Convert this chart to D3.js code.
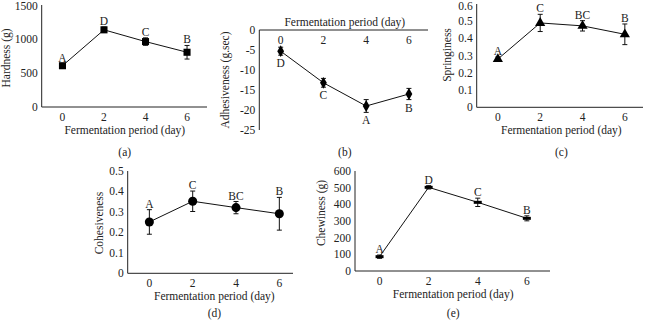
<!DOCTYPE html>
<html>
<head>
<meta charset="utf-8">
<script src="https://cdn.jsdelivr.net/npm/d3@7"></script>
<style>
  body { margin: 0; background: #fff; }
  svg { display: block; font-family: "Liberation Serif", "DejaVu Serif", serif; }
</style>
</head>
<body>
<svg id="chart" width="646" height="322"></svg>
<script>
// fermentation days (shared x values)
const days = [0, 2, 4, 6];
const xTicks = [0, 2, 4, 6];
const xTitle = "Fermentation period (day)";

// (a) hardness
const hardness = [607, 1135, 962, 805];
const hardnessErr = [25, 40, 55, 100];
const hardnessGroups = ["A", "D", "C", "B"];
const hardnessTicks = [0, 500, 1000, 1500];

// (b) adhesiveness
const adhesiveness = [-5.3, -13.2, -19, -16];
const adhesivenessErr = [1, 1.1, 1.6, 1.4];
const adhesivenessGroups = ["D", "C", "A", "B"];
const adhesivenessTicks = [0, -5, -10, -15, -20, -25];

// (c) springiness
const springiness = [0.28, 0.49, 0.473, 0.424];
const springinessErr = [0.012, 0.05, 0.03, 0.06];
const springinessGroups = ["A", "C", "BC", "B"];
const springinessTicks = [0, 0.1, 0.2, 0.3, 0.4, 0.5, 0.6];

// (d) cohesiveness
const cohesiveness = [0.251, 0.352, 0.321, 0.291];
const cohesivenessErr = [0.06, 0.05, 0.03, 0.08];
const cohesivenessGroups = ["A", "C", "BC", "B"];
const cohesivenessTicks = [0, 0.1, 0.2, 0.3, 0.4, 0.5];

// (e) chewiness
const chewiness = [86, 502, 412, 316];
const chewinessErr = [10, 10, 25, 15];
const chewinessGroups = ["A", "D", "C", "B"];
const chewinessTicks = [0, 100, 200, 300, 400, 500, 600];

const svg = d3.select("#chart");
const fs = 11.5;

function panel(p) {
  const g = svg.append("g");
  const x = d3.scaleLinear().domain([-1, 7]).range([p.x0, p.x1]);
  const y = d3.scaleLinear().domain(p.ydom).range([p.yb, p.yt]);
  const axisY = p.top ? p.yt : p.yb;

  // axis lines
  g.append("line").attr("x1", p.x0).attr("x2", p.x0)
    .attr("y1", Math.min(p.yt, p.yb)).attr("y2", Math.max(p.yt, p.yb))
    .attr("stroke", "#222").attr("stroke-width", 1);
  g.append("line").attr("x1", p.x0).attr("x2", p.xEnd)
    .attr("y1", axisY).attr("y2", axisY)
    .attr("stroke", "#222").attr("stroke-width", 1);

  // y tick labels
  g.selectAll(".yt").data(p.yticks).join("text")
    .attr("x", p.x0 - 4).attr("y", d => Math.max(y(d), 6)).attr("dy", "0.35em")
    .attr("text-anchor", "end").attr("font-size", fs).attr("fill", "#222")
    .text(d => d);

  // x tick labels
  g.selectAll(".xt").data(xTicks).join("text")
    .attr("x", d => x(d)).attr("y", axisY + 10).attr("dy", "0.35em")
    .attr("text-anchor", "middle").attr("font-size", fs).attr("fill", "#222")
    .text(d => d);

  // x title
  g.append("text")
    .attr("x", (x(0) + x(6)) / 2).attr("y", p.top ? axisY - 8 : axisY + 23).attr("dy", "0.35em")
    .attr("text-anchor", "middle").attr("font-size", fs).attr("fill", "#222")
    .text(xTitle);

  // y title
  g.append("text")
    .attr("transform", `translate(${p.ylx},${p.yly}) rotate(-90)`)
    .attr("dy", "0.35em")
    .attr("text-anchor", "middle").attr("font-size", fs).attr("fill", "#222")
    .text(p.ytitle);

  // panel letter
  g.append("text")
    .attr("x", (x(0) + x(6)) / 2).attr("y", p.lab).attr("dy", "0.35em")
    .attr("text-anchor", "middle").attr("font-size", fs).attr("fill", "#222")
    .text(p.letter);

  const pts = days.map((d, i) => ({ d, v: p.vals[i], e: p.err[i], grp: p.groups[i] }));

  // line
  g.append("path").datum(pts)
    .attr("d", d3.line().x(d => x(d.d)).y(d => y(d.v)))
    .attr("fill", "none").attr("stroke", "#111").attr("stroke-width", 1);

  // error bars
  const eb = g.selectAll(".eb").data(pts).join("g");
  eb.append("line").attr("x1", d => x(d.d)).attr("x2", d => x(d.d))
    .attr("y1", d => y(d.v - d.e)).attr("y2", d => y(d.v + d.e))
    .attr("stroke", "#111").attr("stroke-width", 1);
  [-1, 1].forEach(s => {
    eb.append("line").attr("x1", d => x(d.d) - 2.5).attr("x2", d => x(d.d) + 2.5)
      .attr("y1", d => y(d.v + s * d.e)).attr("y2", d => y(d.v + s * d.e))
      .attr("stroke", "#111").attr("stroke-width", 1);
  });

  // markers
  g.selectAll(".mk").data(pts).join("path")
    .attr("transform", d => `translate(${x(d.d)},${y(d.v)})`)
    .attr("d", p.marker)
    .attr("fill", "#000");

  // group letters
  g.selectAll(".gl").data(pts).join("text")
    .attr("x", d => x(d.d))
    .attr("y", d => p.top ? y(d.v - d.e) + 8 : y(d.v + d.e) - 6)
    .attr("dy", "0.35em")
    .attr("text-anchor", "middle").attr("font-size", fs).attr("fill", "#222")
    .text(d => d.grp);
}

panel({ x0: 41.7, x1: 207.8, xEnd: 207, yt: 5, yb: 107, ydom: [0, 1500],
  yticks: hardnessTicks, vals: hardness, err: hardnessErr, groups: hardnessGroups,
  ytitle: "Hardness (g)", ylx: 6, yly: 58, letter: "(a)", lab: 152,
  marker: d3.symbol(d3.symbolSquare, 50)() });

panel({ x0: 259.3, x1: 430.3, xEnd: 428, yt: 30, yb: 130, ydom: [-25, 0], top: true,
  yticks: adhesivenessTicks, vals: adhesiveness, err: adhesivenessErr, groups: adhesivenessGroups,
  ytitle: "Adhesiveness (g.sec)", ylx: 225, yly: 80, letter: "(b)", lab: 152,
  marker: d3.symbol(d3.symbolDiamond, 40)() });

panel({ x0: 476.7, x1: 646, xEnd: 643, yt: 4, yb: 107.3, ydom: [0, 0.6],
  yticks: springinessTicks, vals: springiness, err: springinessErr, groups: springinessGroups,
  ytitle: "Springiness", ylx: 447, yly: 55, letter: "(c)", lab: 152,
  marker: d3.symbol(d3.symbolTriangle, 45)() });

panel({ x0: 127.7, x1: 301, xEnd: 293, yt: 171, yb: 273.3, ydom: [0, 0.5],
  yticks: cohesivenessTicks, vals: cohesiveness, err: cohesivenessErr, groups: cohesivenessGroups,
  ytitle: "Cohesiveness", ylx: 99, yly: 223, letter: "(d)", lab: 313,
  marker: d3.symbol(d3.symbolCircle, 64)() });

panel({ x0: 355, x1: 551.4, xEnd: 550, yt: 171, yb: 271, ydom: [0, 600],
  yticks: chewinessTicks, vals: chewiness, err: chewinessErr, groups: chewinessGroups,
  ytitle: "Chewiness (g)", ylx: 321, yly: 213, letter: "(e)", lab: 313,
  marker: "M-4,-1.5H4V1.5H-4Z" });
</script>
</body>
</html>
